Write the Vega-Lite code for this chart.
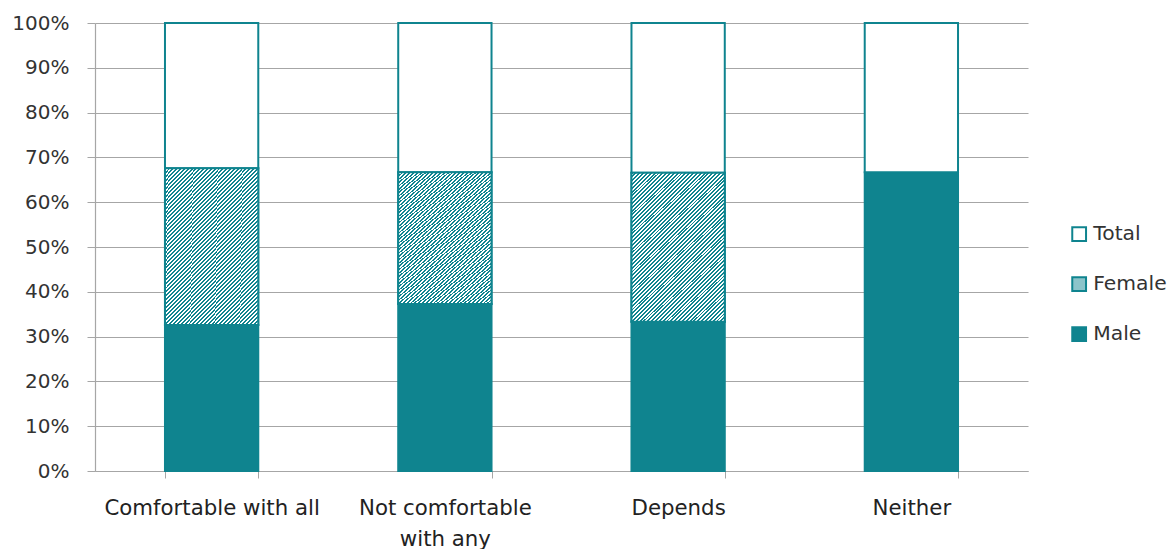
{
  "$schema": "https://vega.github.io/schema/vega-lite/v6.json",
  "width": 933,
  "height": 448,
  "autosize": "none",
  "padding": {"left": 95, "top": 23, "right": 144, "bottom": 78},
  "background": "white",
  "config": {
    "view": {"stroke": null},
    "font": "DejaVu Sans",
    "axis": {"labelFont": "DejaVu Sans", "labelFontSize": 20, "labelColor": "#333333", "domainColor": "#A6A6A6", "tickColor": "#A6A6A6", "gridColor": "#A6A6A6", "title": null}
  },
  "data": {
    "values": [
      {"category": "Comfortable with all", "series": "Male", "value": 32.6},
      {"category": "Comfortable with all", "series": "Female", "value": 35.0},
      {"category": "Comfortable with all", "series": "Total", "value": 32.4},
      {"category": "Not comfortable with any", "series": "Male", "value": 37.3},
      {"category": "Not comfortable with any", "series": "Female", "value": 29.4},
      {"category": "Not comfortable with any", "series": "Total", "value": 33.3},
      {"category": "Depends", "series": "Male", "value": 33.3},
      {"category": "Depends", "series": "Female", "value": 33.3},
      {"category": "Depends", "series": "Total", "value": 33.4},
      {"category": "Neither", "series": "Male", "value": 66.7},
      {"category": "Neither", "series": "Female", "value": 0},
      {"category": "Neither", "series": "Total", "value": 33.3}
    ]
  },
  "transform": [
    {"calculate": "indexof(['Male','Female','Total'], datum.series)", "as": "ord"},
    {"stack": "value", "groupby": ["category"], "sort": [{"field": "ord", "order": "ascending"}], "offset": "normalize", "as": ["v0", "v1"]}
  ],
  "encoding": {
    "x": {
      "field": "category", "type": "nominal", "sort": null,
      "scale": {"paddingInner": 0.6, "paddingOuter": 0.3},
      "axis": {"labelAngle": 0, "tickBand": "extent", "tickSize": 7, "labelPadding": 19, "labelFontSize": 21.3, "labelColor": "#222222", "labelLineHeight": 31, "labelLimit": 300, "labelOverlap": false,
        "labelExpr": "datum.label == 'Not comfortable with any' ? ['Not comfortable', 'with any'] : datum.label", "domainWidth": 1.2}
    },
    "y": {
      "field": "v0", "type": "quantitative",
      "scale": {"domain": [0, 1], "nice": false},
      "axis": {"format": ".0%", "values": [0, 0.1, 0.2, 0.3, 0.4, 0.5, 0.6, 0.7, 0.8, 0.9, 1], "labelOverlap": false, "tickSize": 8, "labelPadding": 18, "grid": true, "gridWidth": 1.2, "domainWidth": 1.2}
    },
    "y2": {"field": "v1"}
  },
  "layer": [
    {
      "mark": {"type": "bar", "stroke": "#0F848F", "strokeWidth": 2},
      "encoding": {
        "fill": {
          "field": "series", "type": "nominal",
          "scale": {"domain": ["Total", "Female", "Male"], "range": ["#FFFFFF", "#8CC4CA", "#0F848F"]},
          "legend": {"title": null, "orient": "none", "legendX": 974, "legendY": 201, "symbolType": "square", "symbolSize": 190, "symbolStrokeColor": "#0F848F", "symbolStrokeWidth": 2, "labelFontSize": 20.3, "labelFont": "DejaVu Sans", "labelColor": "#333333", "rowPadding": 27, "labelOffset": 4}
        }
      }
    },
    {
      "transform": [{"filter": "datum.series == 'Female' && datum.value > 0"}],
      "mark": {
        "type": "bar", "stroke": "#0F848F", "strokeWidth": 2,
        "fill": {
          "gradient": "linear", "x1": 0, "y1": 0, "x2": 0.73, "y2": 1.18,
          "stops": [
            {"offset": 0, "color": "#0F848F"}, {"offset": 0.0078, "color": "#0F848F"}, {"offset": 0.0078, "color": "#FFFFFF"}, {"offset": 0.0156, "color": "#FFFFFF"},
            {"offset": 0.0156, "color": "#0F848F"}, {"offset": 0.0234, "color": "#0F848F"}, {"offset": 0.0234, "color": "#FFFFFF"}, {"offset": 0.0313, "color": "#FFFFFF"},
            {"offset": 0.0313, "color": "#0F848F"}, {"offset": 0.0391, "color": "#0F848F"}, {"offset": 0.0391, "color": "#FFFFFF"}, {"offset": 0.0469, "color": "#FFFFFF"},
            {"offset": 0.0469, "color": "#0F848F"}, {"offset": 0.0547, "color": "#0F848F"}, {"offset": 0.0547, "color": "#FFFFFF"}, {"offset": 0.0625, "color": "#FFFFFF"},
            {"offset": 0.0625, "color": "#0F848F"}, {"offset": 0.0703, "color": "#0F848F"}, {"offset": 0.0703, "color": "#FFFFFF"}, {"offset": 0.0781, "color": "#FFFFFF"},
            {"offset": 0.0781, "color": "#0F848F"}, {"offset": 0.0859, "color": "#0F848F"}, {"offset": 0.0859, "color": "#FFFFFF"}, {"offset": 0.0938, "color": "#FFFFFF"},
            {"offset": 0.0938, "color": "#0F848F"}, {"offset": 0.1016, "color": "#0F848F"}, {"offset": 0.1016, "color": "#FFFFFF"}, {"offset": 0.1094, "color": "#FFFFFF"},
            {"offset": 0.1094, "color": "#0F848F"}, {"offset": 0.1172, "color": "#0F848F"}, {"offset": 0.1172, "color": "#FFFFFF"}, {"offset": 0.125, "color": "#FFFFFF"},
            {"offset": 0.125, "color": "#0F848F"}, {"offset": 0.1328, "color": "#0F848F"}, {"offset": 0.1328, "color": "#FFFFFF"}, {"offset": 0.1406, "color": "#FFFFFF"},
            {"offset": 0.1406, "color": "#0F848F"}, {"offset": 0.1484, "color": "#0F848F"}, {"offset": 0.1484, "color": "#FFFFFF"}, {"offset": 0.1563, "color": "#FFFFFF"},
            {"offset": 0.1563, "color": "#0F848F"}, {"offset": 0.1641, "color": "#0F848F"}, {"offset": 0.1641, "color": "#FFFFFF"}, {"offset": 0.1719, "color": "#FFFFFF"},
            {"offset": 0.1719, "color": "#0F848F"}, {"offset": 0.1797, "color": "#0F848F"}, {"offset": 0.1797, "color": "#FFFFFF"}, {"offset": 0.1875, "color": "#FFFFFF"},
            {"offset": 0.1875, "color": "#0F848F"}, {"offset": 0.1953, "color": "#0F848F"}, {"offset": 0.1953, "color": "#FFFFFF"}, {"offset": 0.2031, "color": "#FFFFFF"},
            {"offset": 0.2031, "color": "#0F848F"}, {"offset": 0.2109, "color": "#0F848F"}, {"offset": 0.2109, "color": "#FFFFFF"}, {"offset": 0.2188, "color": "#FFFFFF"},
            {"offset": 0.2188, "color": "#0F848F"}, {"offset": 0.2266, "color": "#0F848F"}, {"offset": 0.2266, "color": "#FFFFFF"}, {"offset": 0.2344, "color": "#FFFFFF"},
            {"offset": 0.2344, "color": "#0F848F"}, {"offset": 0.2422, "color": "#0F848F"}, {"offset": 0.2422, "color": "#FFFFFF"}, {"offset": 0.25, "color": "#FFFFFF"},
            {"offset": 0.25, "color": "#0F848F"}, {"offset": 0.2578, "color": "#0F848F"}, {"offset": 0.2578, "color": "#FFFFFF"}, {"offset": 0.2656, "color": "#FFFFFF"},
            {"offset": 0.2656, "color": "#0F848F"}, {"offset": 0.2734, "color": "#0F848F"}, {"offset": 0.2734, "color": "#FFFFFF"}, {"offset": 0.2813, "color": "#FFFFFF"},
            {"offset": 0.2813, "color": "#0F848F"}, {"offset": 0.2891, "color": "#0F848F"}, {"offset": 0.2891, "color": "#FFFFFF"}, {"offset": 0.2969, "color": "#FFFFFF"},
            {"offset": 0.2969, "color": "#0F848F"}, {"offset": 0.3047, "color": "#0F848F"}, {"offset": 0.3047, "color": "#FFFFFF"}, {"offset": 0.3125, "color": "#FFFFFF"},
            {"offset": 0.3125, "color": "#0F848F"}, {"offset": 0.3203, "color": "#0F848F"}, {"offset": 0.3203, "color": "#FFFFFF"}, {"offset": 0.3281, "color": "#FFFFFF"},
            {"offset": 0.3281, "color": "#0F848F"}, {"offset": 0.3359, "color": "#0F848F"}, {"offset": 0.3359, "color": "#FFFFFF"}, {"offset": 0.3438, "color": "#FFFFFF"},
            {"offset": 0.3438, "color": "#0F848F"}, {"offset": 0.3516, "color": "#0F848F"}, {"offset": 0.3516, "color": "#FFFFFF"}, {"offset": 0.3594, "color": "#FFFFFF"},
            {"offset": 0.3594, "color": "#0F848F"}, {"offset": 0.3672, "color": "#0F848F"}, {"offset": 0.3672, "color": "#FFFFFF"}, {"offset": 0.375, "color": "#FFFFFF"},
            {"offset": 0.375, "color": "#0F848F"}, {"offset": 0.3828, "color": "#0F848F"}, {"offset": 0.3828, "color": "#FFFFFF"}, {"offset": 0.3906, "color": "#FFFFFF"},
            {"offset": 0.3906, "color": "#0F848F"}, {"offset": 0.3984, "color": "#0F848F"}, {"offset": 0.3984, "color": "#FFFFFF"}, {"offset": 0.4063, "color": "#FFFFFF"},
            {"offset": 0.4063, "color": "#0F848F"}, {"offset": 0.4141, "color": "#0F848F"}, {"offset": 0.4141, "color": "#FFFFFF"}, {"offset": 0.4219, "color": "#FFFFFF"},
            {"offset": 0.4219, "color": "#0F848F"}, {"offset": 0.4297, "color": "#0F848F"}, {"offset": 0.4297, "color": "#FFFFFF"}, {"offset": 0.4375, "color": "#FFFFFF"},
            {"offset": 0.4375, "color": "#0F848F"}, {"offset": 0.4453, "color": "#0F848F"}, {"offset": 0.4453, "color": "#FFFFFF"}, {"offset": 0.4531, "color": "#FFFFFF"},
            {"offset": 0.4531, "color": "#0F848F"}, {"offset": 0.4609, "color": "#0F848F"}, {"offset": 0.4609, "color": "#FFFFFF"}, {"offset": 0.4688, "color": "#FFFFFF"},
            {"offset": 0.4688, "color": "#0F848F"}, {"offset": 0.4766, "color": "#0F848F"}, {"offset": 0.4766, "color": "#FFFFFF"}, {"offset": 0.4844, "color": "#FFFFFF"},
            {"offset": 0.4844, "color": "#0F848F"}, {"offset": 0.4922, "color": "#0F848F"}, {"offset": 0.4922, "color": "#FFFFFF"}, {"offset": 0.5, "color": "#FFFFFF"},
            {"offset": 0.5, "color": "#0F848F"}, {"offset": 0.5078, "color": "#0F848F"}, {"offset": 0.5078, "color": "#FFFFFF"}, {"offset": 0.5156, "color": "#FFFFFF"},
            {"offset": 0.5156, "color": "#0F848F"}, {"offset": 0.5234, "color": "#0F848F"}, {"offset": 0.5234, "color": "#FFFFFF"}, {"offset": 0.5313, "color": "#FFFFFF"},
            {"offset": 0.5313, "color": "#0F848F"}, {"offset": 0.5391, "color": "#0F848F"}, {"offset": 0.5391, "color": "#FFFFFF"}, {"offset": 0.5469, "color": "#FFFFFF"},
            {"offset": 0.5469, "color": "#0F848F"}, {"offset": 0.5547, "color": "#0F848F"}, {"offset": 0.5547, "color": "#FFFFFF"}, {"offset": 0.5625, "color": "#FFFFFF"},
            {"offset": 0.5625, "color": "#0F848F"}, {"offset": 0.5703, "color": "#0F848F"}, {"offset": 0.5703, "color": "#FFFFFF"}, {"offset": 0.5781, "color": "#FFFFFF"},
            {"offset": 0.5781, "color": "#0F848F"}, {"offset": 0.5859, "color": "#0F848F"}, {"offset": 0.5859, "color": "#FFFFFF"}, {"offset": 0.5938, "color": "#FFFFFF"},
            {"offset": 0.5938, "color": "#0F848F"}, {"offset": 0.6016, "color": "#0F848F"}, {"offset": 0.6016, "color": "#FFFFFF"}, {"offset": 0.6094, "color": "#FFFFFF"},
            {"offset": 0.6094, "color": "#0F848F"}, {"offset": 0.6172, "color": "#0F848F"}, {"offset": 0.6172, "color": "#FFFFFF"}, {"offset": 0.625, "color": "#FFFFFF"},
            {"offset": 0.625, "color": "#0F848F"}, {"offset": 0.6328, "color": "#0F848F"}, {"offset": 0.6328, "color": "#FFFFFF"}, {"offset": 0.6406, "color": "#FFFFFF"},
            {"offset": 0.6406, "color": "#0F848F"}, {"offset": 0.6484, "color": "#0F848F"}, {"offset": 0.6484, "color": "#FFFFFF"}, {"offset": 0.6563, "color": "#FFFFFF"},
            {"offset": 0.6563, "color": "#0F848F"}, {"offset": 0.6641, "color": "#0F848F"}, {"offset": 0.6641, "color": "#FFFFFF"}, {"offset": 0.6719, "color": "#FFFFFF"},
            {"offset": 0.6719, "color": "#0F848F"}, {"offset": 0.6797, "color": "#0F848F"}, {"offset": 0.6797, "color": "#FFFFFF"}, {"offset": 0.6875, "color": "#FFFFFF"},
            {"offset": 0.6875, "color": "#0F848F"}, {"offset": 0.6953, "color": "#0F848F"}, {"offset": 0.6953, "color": "#FFFFFF"}, {"offset": 0.7031, "color": "#FFFFFF"},
            {"offset": 0.7031, "color": "#0F848F"}, {"offset": 0.7109, "color": "#0F848F"}, {"offset": 0.7109, "color": "#FFFFFF"}, {"offset": 0.7188, "color": "#FFFFFF"},
            {"offset": 0.7188, "color": "#0F848F"}, {"offset": 0.7266, "color": "#0F848F"}, {"offset": 0.7266, "color": "#FFFFFF"}, {"offset": 0.7344, "color": "#FFFFFF"},
            {"offset": 0.7344, "color": "#0F848F"}, {"offset": 0.7422, "color": "#0F848F"}, {"offset": 0.7422, "color": "#FFFFFF"}, {"offset": 0.75, "color": "#FFFFFF"},
            {"offset": 0.75, "color": "#0F848F"}, {"offset": 0.7578, "color": "#0F848F"}, {"offset": 0.7578, "color": "#FFFFFF"}, {"offset": 0.7656, "color": "#FFFFFF"},
            {"offset": 0.7656, "color": "#0F848F"}, {"offset": 0.7734, "color": "#0F848F"}, {"offset": 0.7734, "color": "#FFFFFF"}, {"offset": 0.7813, "color": "#FFFFFF"},
            {"offset": 0.7813, "color": "#0F848F"}, {"offset": 0.7891, "color": "#0F848F"}, {"offset": 0.7891, "color": "#FFFFFF"}, {"offset": 0.7969, "color": "#FFFFFF"},
            {"offset": 0.7969, "color": "#0F848F"}, {"offset": 0.8047, "color": "#0F848F"}, {"offset": 0.8047, "color": "#FFFFFF"}, {"offset": 0.8125, "color": "#FFFFFF"},
            {"offset": 0.8125, "color": "#0F848F"}, {"offset": 0.8203, "color": "#0F848F"}, {"offset": 0.8203, "color": "#FFFFFF"}, {"offset": 0.8281, "color": "#FFFFFF"},
            {"offset": 0.8281, "color": "#0F848F"}, {"offset": 0.8359, "color": "#0F848F"}, {"offset": 0.8359, "color": "#FFFFFF"}, {"offset": 0.8438, "color": "#FFFFFF"},
            {"offset": 0.8438, "color": "#0F848F"}, {"offset": 0.8516, "color": "#0F848F"}, {"offset": 0.8516, "color": "#FFFFFF"}, {"offset": 0.8594, "color": "#FFFFFF"},
            {"offset": 0.8594, "color": "#0F848F"}, {"offset": 0.8672, "color": "#0F848F"}, {"offset": 0.8672, "color": "#FFFFFF"}, {"offset": 0.875, "color": "#FFFFFF"},
            {"offset": 0.875, "color": "#0F848F"}, {"offset": 0.8828, "color": "#0F848F"}, {"offset": 0.8828, "color": "#FFFFFF"}, {"offset": 0.8906, "color": "#FFFFFF"},
            {"offset": 0.8906, "color": "#0F848F"}, {"offset": 0.8984, "color": "#0F848F"}, {"offset": 0.8984, "color": "#FFFFFF"}, {"offset": 0.9063, "color": "#FFFFFF"},
            {"offset": 0.9063, "color": "#0F848F"}, {"offset": 0.9141, "color": "#0F848F"}, {"offset": 0.9141, "color": "#FFFFFF"}, {"offset": 0.9219, "color": "#FFFFFF"},
            {"offset": 0.9219, "color": "#0F848F"}, {"offset": 0.9297, "color": "#0F848F"}, {"offset": 0.9297, "color": "#FFFFFF"}, {"offset": 0.9375, "color": "#FFFFFF"},
            {"offset": 0.9375, "color": "#0F848F"}, {"offset": 0.9453, "color": "#0F848F"}, {"offset": 0.9453, "color": "#FFFFFF"}, {"offset": 0.9531, "color": "#FFFFFF"},
            {"offset": 0.9531, "color": "#0F848F"}, {"offset": 0.9609, "color": "#0F848F"}, {"offset": 0.9609, "color": "#FFFFFF"}, {"offset": 0.9688, "color": "#FFFFFF"},
            {"offset": 0.9688, "color": "#0F848F"}, {"offset": 0.9766, "color": "#0F848F"}, {"offset": 0.9766, "color": "#FFFFFF"}, {"offset": 0.9844, "color": "#FFFFFF"},
            {"offset": 0.9844, "color": "#0F848F"}, {"offset": 0.9922, "color": "#0F848F"}, {"offset": 0.9922, "color": "#FFFFFF"}, {"offset": 1, "color": "#FFFFFF"}
          ]
        }
      }
    }
  ]
}
